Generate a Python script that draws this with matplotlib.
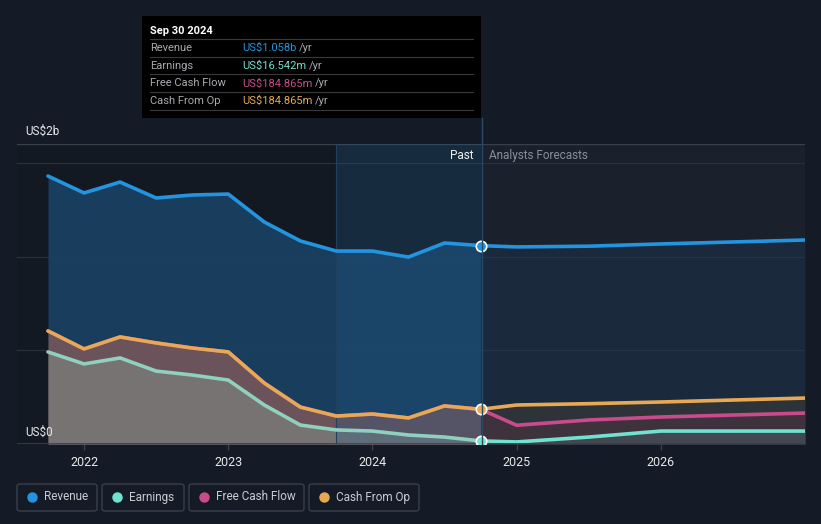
import matplotlib.pyplot as plt
import numpy as np
from matplotlib.patches import FancyBboxPatch, Rectangle
from matplotlib.lines import Line2D

plt.rcParams['font.family'] = ['Roboto', 'DejaVu Sans']

# quarterly history (US$ billions)
past_x = [2021.75, 2022.0, 2022.25, 2022.5, 2022.75, 2023.0, 2023.25,
          2023.5, 2023.75, 2024.0, 2024.25, 2024.5, 2024.75]
revenue = [1.429, 1.339, 1.397, 1.312, 1.328, 1.333, 1.184,
           1.083, 1.029, 1.029, 0.997, 1.072, 1.058]
earnings = [0.491, 0.427, 0.459, 0.389, 0.368, 0.341, 0.208,
            0.101, 0.075, 0.069, 0.048, 0.037, 0.0165]
cash_op = [0.603, 0.507, 0.571, 0.539, 0.512, 0.491, 0.325,
           0.197, 0.149, 0.160, 0.139, 0.203, 0.185]
free_cf = cash_op

# analyst forecasts
fc_x = [2024.75, 2025.0, 2025.5, 2026.0, 2027.0]
fc_revenue = [1.058, 1.051, 1.055, 1.067, 1.088]
fc_earnings = [0.0165, 0.011, 0.037, 0.069, 0.069]
fc_cash_op = [0.185, 0.208, 0.215, 0.224, 0.245]
fc_free_cf = [0.185, 0.100, 0.128, 0.144, 0.165]

years = [2022, 2023, 2024, 2025, 2026]

BG = '#151b26'
C_REV = '#2394df'
C_EARN = '#6fe3d0'
C_FCF = '#c94b8c'
C_CFO = '#e8a954'

W, H = 821, 524
fig = plt.figure(figsize=(W / 100, H / 100), dpi=100, facecolor=BG)


def fx(x):
    return x / W


def fy(y):
    return 1 - y / H


ax = fig.add_axes([fx(17), fy(444), fx(805) - fx(17), fy(144) - fy(444)])
ax.set_facecolor('#131922')
ax.set_xlim(2021.535, 2027.0)
ax.set_ylim(0, 1.6)

# forecast background and past highlight
ax.axvspan(2024.75, 2027.0, color='#1a202c', zorder=0)
ax.axvspan(2023.75, 2024.75, color='#1f5a8a', alpha=0.28, zorder=3, lw=0)
ax.axvline(2023.75, color='#24405a', lw=0.8, zorder=3)

for g in [0.5, 1.0, 1.5]:
    ax.axhline(g, color='#2a303b', lw=0.9, zorder=1)
ax.axhline(1.6, color='#3a404a', lw=1.0, zorder=1)

# fills - past
ax.fill_between(past_x, revenue, 0, color='#1a4263', alpha=0.9, lw=0, zorder=2)
ax.fill_between(past_x, cash_op, 0, color='#bb6a5a', alpha=0.5, lw=0, zorder=2)
ax.fill_between(past_x, earnings, 0, color='#7c7c7a', alpha=0.8, lw=0, zorder=2)
# fills - forecast
ax.fill_between(fc_x, fc_revenue, 0, color='#1a4263', alpha=0.3, lw=0, zorder=2)
ax.fill_between(fc_x, fc_cash_op, 0, color='#3a3a36', alpha=0.6, lw=0, zorder=2)
ax.fill_between(fc_x, fc_free_cf, 0, color='#4a3242', alpha=0.6, lw=0, zorder=2)
ax.fill_between(fc_x, fc_earnings, 0, color='#46505c', alpha=0.7, lw=0, zorder=2)

lkw = dict(lw=2.6, solid_joinstyle='round', solid_capstyle='round', zorder=5)
ax.plot(past_x, revenue, color=C_REV, **lkw)
ax.plot(fc_x, fc_revenue, color=C_REV, **lkw)
ax.plot(past_x, free_cf, color=C_FCF, **lkw)
ax.plot(fc_x, fc_free_cf, color=C_FCF, **lkw)
ax.plot(past_x, cash_op, color=C_CFO, **lkw)
ax.plot(fc_x, fc_cash_op, color=C_CFO, **lkw)
ax.plot(past_x, earnings, color='#8fd0bf', **lkw)
ax.plot(fc_x, fc_earnings, color=C_EARN, **lkw)

for val, col in [(revenue[-1], C_REV), (cash_op[-1], C_CFO), (earnings[-1], C_EARN)]:
    ax.plot([past_x[-1]], [val], 'o', ms=7.5, mfc=col, mec='white', mew=1.2, zorder=7)

for s in ax.spines.values():
    s.set_visible(False)
ax.axhline(0, color='#3a404a', lw=1.2, zorder=6)
ax.set_yticks([])
ax.set_xticks(years)
ax.set_xticklabels([str(y) for y in years])
ax.tick_params(axis='x', colors='#3a404a', length=4, width=1, labelcolor='#e6e8eb',
               labelsize=9, pad=5)

# divider line up to tooltip
fig.add_artist(Line2D([fx(481.5), fx(481.5)], [fy(118), fy(444)], color='#2a4a68', lw=1.0))

fig.text(fx(473), fy(156), 'Past', color='#f0f0f0', fontsize=8.5, ha='right', va='center')
fig.text(fx(489), fy(156), 'Analysts Forecasts', color='#8a9099', fontsize=8.5,
         ha='left', va='center')
fig.text(fx(25), fy(131), 'US$2b', color='#e6e8eb', fontsize=8.5, va='center')
fig.text(fx(25), fy(432), 'US$0', color='#e6e8eb', fontsize=8.5, va='center')

# tooltip
fig.add_artist(Rectangle((fx(142), fy(118)), fx(481) - fx(142), fy(16) - fy(118),
                         facecolor='#000000', edgecolor='none'))
fig.text(fx(150), fy(31), 'Sep 30 2024', color='white', fontsize=8, fontweight='bold',
         va='center')
rows = [('Revenue', 'US$1.058b', C_REV), ('Earnings', 'US$16.542m', C_EARN),
        ('Free Cash Flow', 'US$184.865m', C_FCF), ('Cash From Op', 'US$184.865m', C_CFO)]
for i, (lab, val, col) in enumerate(rows):
    yy = 48 + i * 17.7
    fig.add_artist(Line2D([fx(150), fx(473)], [fy(yy - 9), fy(yy - 9)], color='#3a3a3a', lw=0.8))
    fig.text(fx(150), fy(yy), lab, color='#a8abb0', fontsize=8, va='center')
    t = fig.text(fx(242), fy(yy), val, color=col, fontsize=8, va='center')
    fig.canvas.draw()
    bb = t.get_window_extent()
    fig.text(bb.x1 / W + fx(3), fy(yy), '/yr', color='#a8abb0', fontsize=8, va='center')
fig.add_artist(Line2D([fx(150), fx(473)], [fy(110), fy(110)], color='#3a3a3a', lw=0.8))

# legend
legend = [('Revenue', C_REV, 17, 97), ('Earnings', C_EARN, 102, 184),
          ('Free Cash Flow', C_FCF, 189, 304), ('Cash From Op', C_CFO, 309, 419)]
for lab, col, x0, x1 in legend:
    fig.add_artist(FancyBboxPatch((fx(x0), fy(511)), fx(x1) - fx(x0), fy(484) - fy(511),
                                  boxstyle='round,pad=0,rounding_size=0.004',
                                  facecolor='none', edgecolor='#3a404a', lw=1.0))
    fig.add_artist(Line2D([fx(x0 + 15)], [fy(497)], marker='o', ms=6.5, color=col, lw=0))
    fig.text(fx(x0 + 27), fy(497), lab, color='#c8ccd2', fontsize=8.5, va='center')

fig.savefig('out.png', dpi=100, facecolor=BG)
